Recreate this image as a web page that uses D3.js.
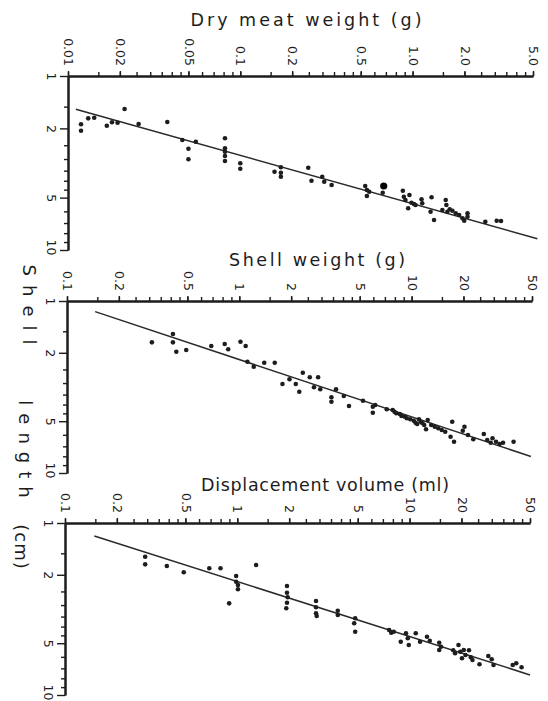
<!DOCTYPE html>
<html>
<head>
<meta charset="utf-8">
<script src="https://cdn.jsdelivr.net/npm/d3@7"></script>
<style>
  html, body { margin: 0; padding: 0; background: #ffffff; }
  svg { display: block; }
  text { font-family: "DejaVu Sans", sans-serif; fill: #1d1d1d; }
</style>
</head>
<body>
<svg id="chart" width="548" height="701"></svg>
<script>
// ---- Panel 1: dry meat weight (g) against shell length (cm) ----
const dryMeatWeight = [0.0119, 0.0119, 0.0131, 0.0142, 0.0168, 0.0180, 0.0194, 0.0213, 0.0257, 0.0377,
  0.0461, 0.0500, 0.0500, 0.0552, 0.0815, 0.0815, 0.0815, 0.0815, 0.0815, 0.100, 0.100,
  0.158, 0.172, 0.172, 0.172, 0.248, 0.259, 0.299, 0.307, 0.339,
  0.531, 0.543, 0.543, 0.560, 0.671, 0.878, 0.890, 0.909, 0.943, 0.959, 0.985, 1.018, 1.040,
  1.127, 1.138, 1.289, 1.272, 1.332, 1.489, 1.557, 1.571, 1.593, 1.643, 1.703, 1.781, 1.864,
  1.949, 1.994, 2.084, 2.084, 2.644, 3.078, 3.261];
const dryMeatLength = [1.895, 2.063, 1.751, 1.737, 1.931, 1.845, 1.855, 1.548, 1.887, 1.838,
  2.333, 2.617, 3.011, 2.386, 2.280, 2.603, 2.723, 2.883, 3.080, 3.175, 3.410,
  3.548, 3.347, 3.595, 3.791, 3.365, 3.998, 3.791, 4.052, 4.232,
  4.288, 4.521, 4.894, 4.623, 4.684, 4.563, 4.940, 5.160, 5.758, 4.829, 5.349, 5.441, 5.514,
  5.113, 5.391, 4.980, 6.024, 6.725, 5.890, 5.160, 5.514, 6.024, 5.836, 5.945, 6.153, 6.293,
  6.573, 6.785, 6.153, 6.436, 6.877, 6.785, 6.812];
const dryMeatMarkedWeight = [0.680];
const dryMeatMarkedLength = [4.288];
const dryMeatFit = [5.42, 0.2775];          // length = a * weight^b
const dryMeatFitSpan = [0.0111, 5.3];
const dryMeatTicks = [0.01, 0.02, 0.05, 0.1, 0.2, 0.5, 1.0, 2.0, 5.0];
const dryMeatTickLabels = ["0.01", "0.02", "0.05", "0.1", "0.2", "0.5", "1.0", "2.0", "5.0"];

// ---- Panel 2: shell weight (g) against shell length (cm) ----
const shellWeight = [0.311, 0.412, 0.412, 0.431, 0.492, 0.688, 0.823, 0.862, 1.016, 1.089,
  1.115, 1.213, 1.396, 1.606, 1.781, 1.956, 2.128, 2.230, 2.337, 2.566, 2.714, 2.868, 2.950,
  3.426, 3.426, 3.644, 4.041, 4.331, 5.224, 5.957, 5.957, 6.152, 7.175,
  7.77, 7.96, 8.15, 8.54, 8.74, 9.15, 9.38, 9.83, 10.30, 10.54, 10.78, 11.04, 11.30, 11.57,
  11.84, 12.13, 12.41, 13.00, 13.62, 14.28, 14.96, 15.68, 16.84, 17.22, 17.64, 19.82, 20.28,
  21.25, 22.81, 26.26, 27.48, 28.79, 29.50, 30.91, 32.40, 33.95, 39.09];
const shellWeightLength = [1.739, 1.555, 1.739, 1.971, 1.927, 1.826, 1.778, 1.909, 1.725, 1.826,
  2.254, 2.410, 2.284, 2.284, 3.038, 2.852, 3.038, 3.368, 2.611, 2.777, 3.176, 2.777, 3.262,
  3.630, 3.850, 3.262, 3.567, 4.078, 3.799, 4.116, 4.461, 4.024, 4.263,
  4.302, 4.401, 4.496, 4.539, 4.662, 4.706, 4.808, 4.873, 4.965, 5.100, 5.189, 4.873, 5.031, 5.140,
  5.259, 5.571, 4.919, 5.259, 5.381, 5.498, 5.623, 5.753, 6.151, 5.031, 6.577, 5.677, 5.381,
  6.012, 6.369, 5.933, 6.428, 6.665, 6.285, 6.577, 6.784, 6.665, 6.577];
const shellWeightFit = [2.19, 0.3331];
const shellWeightFitSpan = [0.1456, 49.3];

// ---- Panel 3: displacement volume (ml) against shell length (cm) ----
const displacementVolume = [0.292, 0.292, 0.390, 0.489, 0.688, 0.799, 0.985, 0.985, 1.009, 1.009,
  0.897, 1.286, 1.943, 1.943, 1.961, 1.943, 1.925, 2.864, 2.864, 2.864, 2.891, 3.830, 3.830,
  4.834, 4.770, 4.834, 7.609, 7.826, 8.091, 8.888, 9.528, 9.760, 9.892, 10.86, 11.50, 12.62,
  13.10, 14.86, 15.22, 14.86, 17.93, 18.37, 19.22, 19.69, 20.14, 20.63, 21.11, 22.12, 22.66,
  23.18, 25.46, 28.64, 29.97, 30.70, 39.69, 41.60, 44.67];
const displacementLength = [1.570, 1.739, 1.778, 1.935, 1.834, 1.834, 2.033, 2.194, 2.293, 2.430,
  2.931, 1.755, 2.324, 2.543, 2.704, 2.906, 3.132, 2.841, 3.091, 3.350, 3.473, 3.236, 3.427,
  3.582, 3.830, 4.285, 4.189, 4.343, 4.285, 4.898, 4.378, 4.680, 5.121, 4.378, 4.898, 4.581,
  4.833, 4.965, 5.239, 5.476, 5.495, 5.723, 5.121, 5.602, 6.118, 5.476, 5.853, 5.495, 6.037,
  6.260, 6.630, 5.933, 6.202, 6.693, 6.693, 6.543, 6.902];
const displacementFit = [2.19, 0.3195];
const displacementFitSpan = [0.148, 50];

// Shared tick sets
const weightTicks = [0.1, 0.2, 0.5, 1, 2, 5, 10, 20, 50];
const weightTickLabels = ["0.1", "0.2", "0.5", "1", "2", "5", "10", "20", "50"];
const lengthTicks = [1, 2, 5, 10];
const lengthTickLabels = ["1", "2", "5", "10"];
const lengthMinorTicks = [1.5, 2.5, 3, 3.5, 4, 4.5, 6, 7, 8, 9];
const minorMultiples = [1, 1.5, 2, 2.5, 3, 3.5, 4, 4.5, 5, 6, 7, 8, 9];

const svg = d3.select("#chart");
const ink = "#1d1d1d";

function minorTicksFor(domain) {
  const out = [];
  for (let e = Math.floor(Math.log10(domain[0])); e <= Math.ceil(Math.log10(domain[1])); e++) {
    for (const m of minorMultiples) {
      const v = +(m * Math.pow(10, e)).toPrecision(6);
      if (v >= domain[0] * 0.999 && v <= domain[1] * 1.001) out.push(v);
    }
  }
  return out;
}

function drawPanel(p) {
  const x = d3.scaleLog().domain(p.xDomain).range(p.xRange);
  const y = d3.scaleLog().domain([1, 10]).range(p.yRange);
  const g = svg.append("g");

  // title
  g.append("text")
    .attr("x", p.titleX).attr("y", p.titleY)
    .attr("text-anchor", "middle")
    .attr("font-size", 17.5)
    .attr("textLength", p.titleLength)
    .attr("lengthAdjust", "spacing")
    .text(p.title);

  // top axis: minor ticks
  const xa = g.append("g").attr("transform", `translate(0,${p.yRange[0]})`);
  xa.call(d3.axisTop(x).tickValues(minorTicksFor(p.xDomain)).tickSize(4).tickSizeOuter(0).tickFormat(""));
  // top axis: labelled ticks
  const xm = g.append("g").attr("transform", `translate(0,${p.yRange[0]})`);
  xm.call(d3.axisTop(x).tickValues(p.xTicks).tickSize(5).tickSizeOuter(0)
    .tickFormat((d, i) => p.xLabels[i]));
  xm.selectAll(".tick text")
    .attr("x", 0).attr("y", 0).attr("dy", "0.35em")
    .attr("transform", "translate(0,-10) rotate(90)")
    .attr("text-anchor", "end")
    .attr("font-size", 12.5)
    .attr("font-family", "DejaVu Sans, sans-serif")
    .attr("fill", ink);

  // left axis
  const ya = g.append("g").attr("transform", `translate(${p.xRange[0]},0)`);
  ya.call(d3.axisLeft(y).tickValues(lengthMinorTicks).tickSize(4).tickSizeOuter(0).tickFormat(""));
  const ym = g.append("g").attr("transform", `translate(${p.xRange[0]},0)`);
  ym.call(d3.axisLeft(y).tickValues(lengthTicks).tickSize(8).tickSizeOuter(0)
    .tickFormat((d, i) => lengthTickLabels[i]));
  // the "10" label is nudged up so it stays inside the sheet
  ym.selectAll(".tick text")
    .attr("x", 0).attr("y", 0).attr("dy", "0.35em")
    .attr("transform", d => `translate(-17,${d === 10 ? -3 : 0}) rotate(90)`)
    .attr("text-anchor", "middle")
    .attr("font-size", 12.5)
    .attr("font-family", "DejaVu Sans, sans-serif")
    .attr("fill", ink);

  g.selectAll(".domain").attr("stroke", ink).attr("stroke-width", 2);
  g.selectAll(".tick line").attr("stroke", ink).attr("stroke-width", 1.4);

  // fitted line
  const [a, b] = p.fit;
  const ends = p.fitSpan.map(w => [w, a * Math.pow(w, b)]);
  g.append("path")
    .attr("d", d3.line().x(d => x(d[0])).y(d => y(d[1]))(ends))
    .attr("fill", "none").attr("stroke", "#2a2a2a").attr("stroke-width", 1.5);

  // observations
  g.append("g").selectAll("circle")
    .data(p.xs.map((w, i) => [w, p.ys[i]]))
    .join("circle")
    .attr("cx", d => x(d[0])).attr("cy", d => y(d[1]))
    .attr("r", 2.3).attr("fill", ink);

  if (p.markedX) {
    g.append("g").selectAll("circle")
      .data(p.markedX.map((w, i) => [w, p.markedY[i]]))
      .join("circle")
      .attr("cx", d => x(d[0])).attr("cy", d => y(d[1]))
      .attr("r", 3.6).attr("fill", "#000");
  }
}

drawPanel({
  title: "Dry  meat  weight  (g)", titleX: 306, titleY: 26, titleLength: 231,
  xDomain: [0.01, 5], xRange: [68, 533], yRange: [76, 250],
  xTicks: dryMeatTicks, xLabels: dryMeatTickLabels,
  xs: dryMeatWeight, ys: dryMeatLength,
  markedX: dryMeatMarkedWeight, markedY: dryMeatMarkedLength,
  fit: dryMeatFit, fitSpan: dryMeatFitSpan
});
drawPanel({
  title: "Shell  weight  (g)", titleX: 317, titleY: 266, titleLength: 176,
  xDomain: [0.1, 50], xRange: [67, 532], yRange: [301, 473],
  xTicks: weightTicks, xLabels: weightTickLabels,
  xs: shellWeight, ys: shellWeightLength,
  fit: shellWeightFit, fitSpan: shellWeightFitSpan
});
drawPanel({
  title: "Displacement  volume (ml)", titleX: 325, titleY: 491, titleLength: 248,
  xDomain: [0.1, 50], xRange: [65, 530], yRange: [523, 695],
  xTicks: weightTicks, xLabels: weightTickLabels,
  xs: displacementVolume, ys: displacementLength,
  fit: displacementFit, fitSpan: displacementFitSpan
});

// shared vertical axis title, set letter by letter down the left margin
const yTitle = [
  { t: "Shell", cx: 29, cy: 309, spacing: 9 },
  { t: "length", cx: 25, cy: 453, spacing: 8 },
  { t: "(cm)", cx: 21, cy: 547, spacing: 1 }
];
yTitle.forEach(w => {
  svg.append("text")
    .attr("transform", `translate(${w.cx},${w.cy}) rotate(90)`)
    .attr("text-anchor", "middle").attr("dy", "0.35em")
    .attr("font-size", 18)
    .attr("letter-spacing", w.spacing)
    .text(w.t);
});
</script>
</body>
</html>
